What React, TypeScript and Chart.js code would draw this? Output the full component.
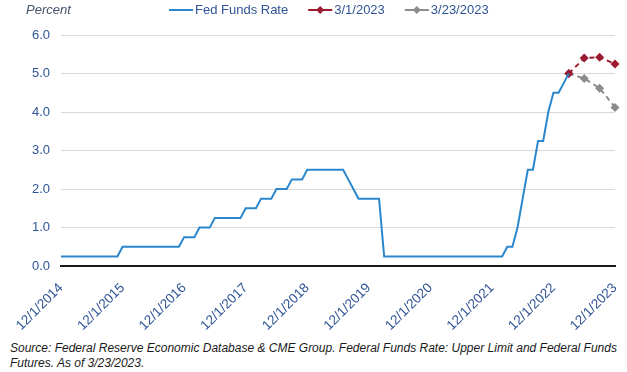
import React, { useEffect, useRef } from "react";
import { Chart, registerables } from "chart.js";

Chart.register(...registerables);

// Months since 12/1/2014 for each year tick
const tickLabels = [
  "12/1/2014", "12/1/2015", "12/1/2016", "12/1/2017", "12/1/2018",
  "12/1/2019", "12/1/2020", "12/1/2021", "12/1/2022", "12/1/2023",
];
const monthsPerTick = 12;
const lastMonth = 108;

// Fed Funds Rate upper limit, monthly from 12/1/2014 to 3/1/2023
const fedFunds = [
  0.25, 0.25, 0.25, 0.25, 0.25, 0.25, 0.25, 0.25, 0.25, 0.25, 0.25, 0.25,
  0.5, 0.5, 0.5, 0.5, 0.5, 0.5, 0.5, 0.5, 0.5, 0.5, 0.5, 0.5,
  0.75, 0.75, 0.75, 1.0, 1.0, 1.0, 1.25, 1.25, 1.25, 1.25, 1.25, 1.25,
  1.5, 1.5, 1.5, 1.75, 1.75, 1.75, 2.0, 2.0, 2.0, 2.25, 2.25, 2.25,
  2.5, 2.5, 2.5, 2.5, 2.5, 2.5, 2.5, 2.5, 2.25, 2.0, 1.75, 1.75,
  1.75, 1.75, 1.75, 0.25, 0.25, 0.25, 0.25, 0.25, 0.25, 0.25, 0.25, 0.25,
  0.25, 0.25, 0.25, 0.25, 0.25, 0.25, 0.25, 0.25, 0.25, 0.25, 0.25, 0.25,
  0.25, 0.25, 0.25, 0.5, 0.5, 1.0, 1.75, 2.5, 2.5, 3.25, 3.25, 4.0,
  4.5, 4.5, 4.75, 5.0,
];

// Futures-implied path (months since 12/1/2014)
const futuresMonths = [99, 102, 105, 108];
const futures0301 = [5.0, 5.4, 5.42, 5.25];
const futures0323 = [5.0, 4.87, 4.62, 4.12];

const seriesNames = ["Fed Funds Rate", "3/1/2023", "3/23/2023"];
const yAxisTitle = "Percent";
const sourceLine1 =
  "Source: Federal Reserve Economic Database & CME Group. Federal Funds Rate: Upper Limit and Federal Funds";
const sourceLine2 = "Futures. As of 3/23/2023.";

const BLUE = "#2B87CC";
const RED = "#9B1B30";
const GRAY = "#8C8C8C";
const TEXT_BLUE = "#2F5496";
const FONT = "'Liberation Sans', Arial, sans-serif";

const legendPlugin = {
  id: "customLegend",
  afterDraw(chart: any) {
    const ctx = chart.ctx;
    ctx.save();
    ctx.textBaseline = "middle";
    ctx.textAlign = "left";
    ctx.font = `italic 13px ${FONT}`;
    ctx.fillStyle = "#44546A";
    ctx.fillText(yAxisTitle, 26, 10);

    ctx.font = `13px ${FONT}`;
    const y = 10;
    let x = 169;
    const colors = [BLUE, RED, GRAY];
    chart.data.datasets.forEach((ds: any, i: number) => {
      ctx.strokeStyle = colors[i];
      ctx.lineWidth = 2;
      ctx.setLineDash([]);
      ctx.beginPath();
      ctx.moveTo(x, y);
      ctx.lineTo(x + 24, y);
      ctx.stroke();
      if (i > 0) {
        ctx.fillStyle = colors[i];
        ctx.beginPath();
        const cx = x + 12;
        const r = 4;
        ctx.moveTo(cx, y - r);
        ctx.lineTo(cx + r, y);
        ctx.lineTo(cx, y + r);
        ctx.lineTo(cx - r, y);
        ctx.closePath();
        ctx.fill();
      }
      x += 26;
      ctx.fillStyle = TEXT_BLUE;
      ctx.fillText(ds.label, x, y);
      x += ctx.measureText(ds.label).width + 20;
    });
    ctx.restore();
  },
};

export default function App() {
  const canvasRef = useRef<HTMLCanvasElement | null>(null);

  useEffect(() => {
    if (!canvasRef.current) return;
    const chart = new Chart(canvasRef.current, {
      type: "line",
      data: {
        datasets: [
          {
            label: seriesNames[0],
            data: fedFunds.map((v, i) => ({ x: i, y: v })),
            borderColor: BLUE,
            backgroundColor: BLUE,
            borderWidth: 2,
            pointRadius: 0,
            pointHitRadius: 0,
            tension: 0,
          },
          {
            label: seriesNames[1],
            data: futuresMonths.map((m, i) => ({ x: m, y: futures0301[i] })),
            borderColor: RED,
            backgroundColor: RED,
            borderWidth: 2,
            borderDash: [5, 4],
            pointStyle: "rectRot",
            pointRadius: 4.5,
            pointHitRadius: 0,
            pointBorderWidth: 0,
            clip: false,
          },
          {
            label: seriesNames[2],
            data: futuresMonths.map((m, i) => ({ x: m, y: futures0323[i] })),
            borderColor: GRAY,
            backgroundColor: GRAY,
            borderWidth: 2,
            borderDash: [5, 4],
            pointStyle: "rectRot",
            pointRadius: 4.5,
            pointHitRadius: 0,
            pointBorderWidth: 0,
            clip: false,
          },
        ],
      },
      options: {
        animation: false,
        responsive: true,
        maintainAspectRatio: false,
        layout: { padding: { left: 0, right: 12, top: 35, bottom: 0 } },
        plugins: {
          legend: { display: false },
          tooltip: { enabled: false },
        },
        scales: {
          x: {
            type: "linear",
            min: 0,
            max: lastMonth,
            grid: { display: false, drawTicks: false },
            border: { display: true, color: "#1a1a1a", width: 2 },
            afterFit: (scale: any) => {
              scale.height = 64;
              scale.paddingRight = 0;
              scale.paddingLeft = 0;
            },
            afterBuildTicks: (scale: any) => {
              scale.ticks = tickLabels.map((_, i) => ({ value: i * monthsPerTick }));
            },
            ticks: {
              autoSkip: false,
              minRotation: 45,
              maxRotation: 45,
              padding: 14,
              color: TEXT_BLUE,
              font: { family: FONT, size: 13.5 },
              callback: (value: any) => tickLabels[Math.round(Number(value) / monthsPerTick)],
            },
          },
          y: {
            min: 0,
            max: 6,
            afterFit: (scale: any) => {
              scale.width = 61;
            },
            grid: { color: "#D9D9D9", lineWidth: 1, drawTicks: false },
            border: { display: false },
            ticks: {
              stepSize: 1,
              padding: 11,
              color: TEXT_BLUE,
              font: { family: FONT, size: 13 },
              callback: (value: any) => Number(value).toFixed(1),
            },
          },
        },
      },
      plugins: [legendPlugin],
    });
    return () => chart.destroy();
  }, []);

  return (
    <div style={{ position: "absolute", left: 0, top: 0, width: 627, height: 372, background: "#fff" }}>
      <div style={{ position: "absolute", left: 0, top: 0, width: 627, height: 330 }}>
        <canvas ref={canvasRef} />
      </div>
      <div
        style={{
          position: "absolute",
          left: 10,
          top: 341,
          fontFamily: FONT,
          fontStyle: "italic",
          fontSize: 12,
          lineHeight: "15px",
          color: "#1a1a1a",
          whiteSpace: "nowrap",
        }}
      >
        {sourceLine1}
        <br />
        {sourceLine2}
      </div>
    </div>
  );
}
